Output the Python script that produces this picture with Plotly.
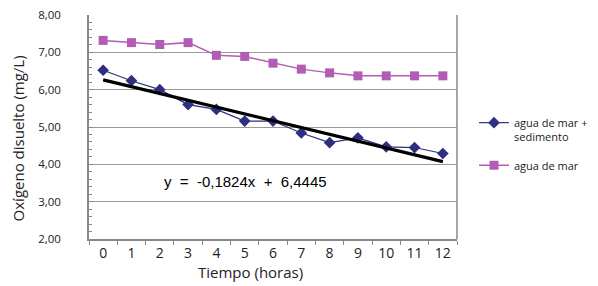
import plotly.graph_objects as go

hours = list(range(13))
sediment = [6.52, 6.24, 6.00, 5.60, 5.47, 5.16, 5.16, 4.84, 4.58, 4.71, 4.47, 4.45, 4.29]
seawater = [7.32, 7.26, 7.21, 7.26, 6.92, 6.89, 6.71, 6.55, 6.45, 6.37, 6.37, 6.37, 6.37]
trend_slope = -0.1824
trend_intercept = 6.4446
y_ticks = [2, 3, 4, 5, 6, 7, 8]

# Excel trendline uses x = 1..13 for categories 0..12
trend_x = [hours[0], hours[-1]]
trend_y = [trend_slope * (h + 1) + trend_intercept for h in trend_x]

BLUE = "#2f2f7f"
MAG = "#b35cb3"
GRID = "#9a9a9a"
FONT = "Open Sans"

# page has an 8px body margin; figure sized to fit the window
W, H = 590, 278
L, R, T, B = 81, 141, 7, 47

fig = go.Figure()
fig.add_trace(go.Scatter(
    x=hours, y=sediment, mode="lines+markers", name="agua de mar +<br>sedimento",
    line=dict(color=BLUE, width=1.2), marker=dict(symbol="diamond", size=9, color=BLUE),
    legendgroup="a"))
fig.add_trace(go.Scatter(
    x=hours, y=seawater, mode="lines+markers", name="agua de mar",
    line=dict(color=MAG, width=1.5), marker=dict(symbol="square", size=9, color=MAG),
    legendgroup="b"))
fig.add_trace(go.Scatter(
    x=trend_x, y=trend_y, mode="lines", showlegend=False,
    line=dict(color="black", width=3.2)))

eq_text = "y = -0,1824x + 6,4445".replace(" ", "&nbsp;&nbsp;")
fig.add_annotation(
    x=0.424, y=3.55, xref="paper", yref="y",
    text=eq_text,
    showarrow=False, font=dict(family="Liberation Sans", size=15, color="black"))

fig.update_layout(
    width=W, height=H,
    margin=dict(l=L, r=R, t=T, b=B),
    paper_bgcolor="white", plot_bgcolor="white",
    separators=",.",
    font=dict(family=FONT, size=13, color="#222"),
    showlegend=True,
    legend=dict(xref="container", yref="container", x=(474 - 8) / W, y=1 - (109 - 8) / H,
                xanchor="left", yanchor="top", valign="top",
                tracegroupgap=11, font=dict(family=FONT, size=11, color="#222"),
                bgcolor="rgba(0,0,0,0)"),
)
fig.update_xaxes(
    range=[-0.5, 12.5], tickmode="array", tickvals=hours, ticktext=[str(h) for h in hours],
    ticks="", showgrid=False, zeroline=False, automargin=False,
    showline=True, linecolor="#888", linewidth=1.5,
    tickfont=dict(family=FONT, size=14, color="#222"),
    minor=dict(tickmode="array", tickvals=[h - 0.5 for h in hours] + [12.5],
               ticks="outside", ticklen=4, tickcolor="#888", tickwidth=1.2, showgrid=False),
)
fig.update_yaxes(
    range=[2, 8], tickmode="array", tickvals=y_ticks, tickformat=".2f",
    ticks="inside", ticklen=4, tickcolor="#888", automargin=False,
    ticklabeloverflow="allow",
    showgrid=True, gridcolor=GRID, gridwidth=1.2, zeroline=False,
    showline=True, linecolor="#888", linewidth=1.5,
    ticklabelstandoff=24,
    tickfont=dict(family=FONT, size=11.5, color="#222"),
    minor=dict(dtick=0.2, ticks="inside", ticklen=3, tickcolor="#888", showgrid=False),
)
fig.add_shape(type="line", xref="paper", yref="paper", x0=1, x1=1, y0=0, y1=1,
              line=dict(color="#888", width=1.5))

fig.add_annotation(xref="paper", yref="paper", x=-0.225, y=0.45, text="Oxígeno disuelto (mg/L)",
                   textangle=-90, showarrow=False, font=dict(family=FONT, size=15, color="#222"))
fig.add_annotation(xref="paper", yref="paper", x=0.438, y=-0.095, yanchor="top",
                   text="Tiempo (horas)", showarrow=False,
                   font=dict(family=FONT, size=15, color="#222"))

fig.write_html("out.html")
